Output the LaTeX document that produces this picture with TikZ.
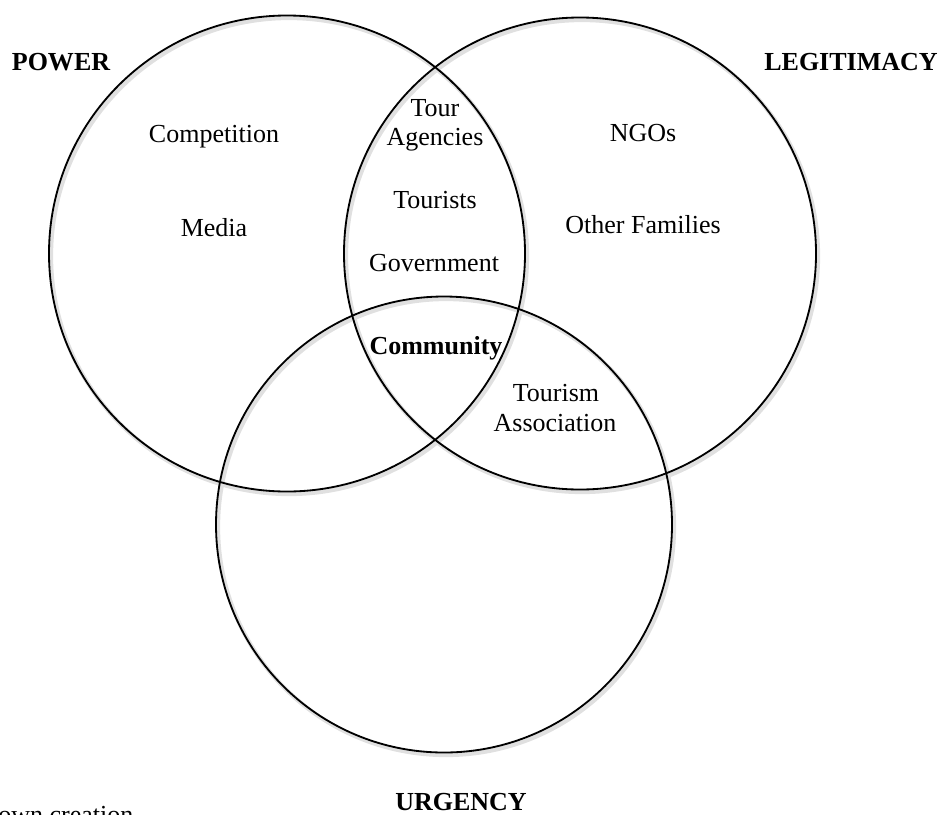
\documentclass[tikz,border=0pt]{standalone}
\usepackage{fontspec}
\setmainfont{Liberation Serif}
\begin{document}
\begin{tikzpicture}[x=0.25mm,y=-0.25mm,
  ring/.style={draw=black,line width=1.3pt},
  ringshade/.style={draw=black!12,line width=3pt},
  lbl/.style={font=\fontsize{18.5}{22}\selectfont,inner sep=0pt,align=center},
  head/.style={font=\fontsize{18.5}{22}\selectfont\bfseries,inner sep=0pt}]
\useasboundingbox (0,0) rectangle (943,814);
% soft shading under the rings
\draw[ringshade] (289,256) circle (238);
\draw[ringshade] (582,256) circle (236);
\draw[ringshade] (446,527) circle (228);
% the three rings
\draw[ring] (287,253.5) circle (238);
\draw[ring] (580,253.5) circle (236);
\draw[ring] (444,524.5) circle (228);
% headings
\node[head] (power) at (61,62) {POWER};
\node[head] (legit) at (851,62) {LEGITIMACY};
\node[head] (urg) at (461,802) {URGENCY};
% stakeholders
\node[lbl] (comp) at (214,137) {Competition};
\node[lbl] (media) at (214,228) {Media};
\node[lbl] (tour) at (435,108) {Tour};
\node[lbl] (agen) at (435,140) {Agencies};
\node[lbl] (tourists) at (435,200) {Tourists};
\node[lbl] (gov) at (434,263) {Government};
\node[lbl,font=\fontsize{18.5}{22}\selectfont\bfseries] (comm) at (436,348) {Community};
\node[lbl] (tourism) at (556,393) {Tourism};
\node[lbl] (assoc) at (555,423) {Association};
\node[lbl] (ngo) at (643,133) {NGOs};
\node[lbl] (fam) at (643,225) {Other Families};
\node[lbl,anchor=base west] (src) at (-2,823) {own creation};
\end{tikzpicture}
\end{document}
